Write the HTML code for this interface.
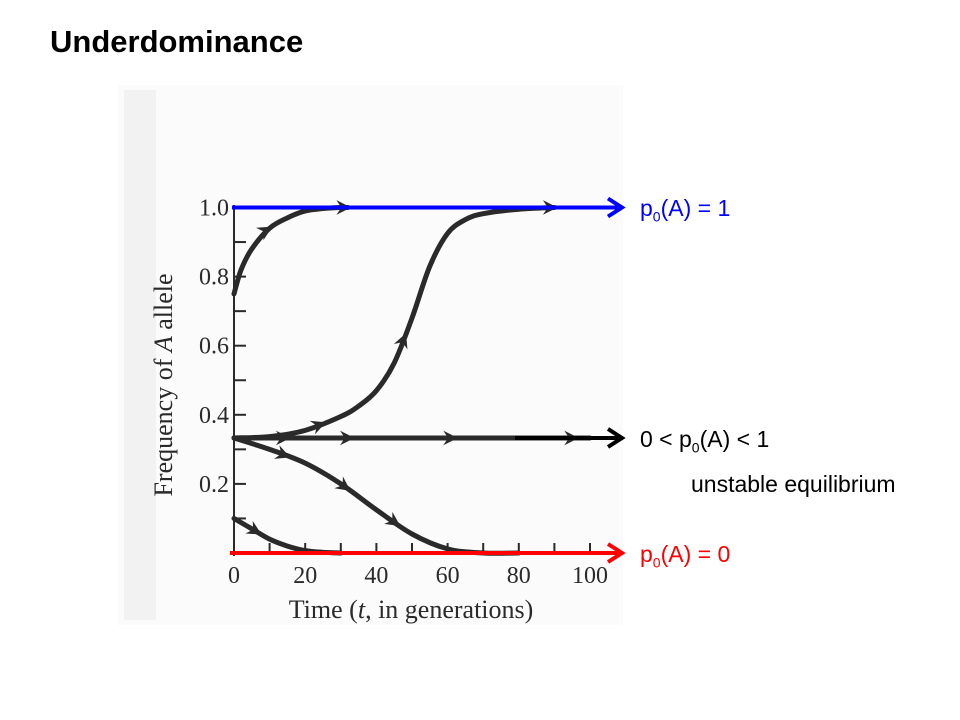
<!DOCTYPE html>
<html><head><meta charset="utf-8"><style>
body{margin:0;background:#fff;width:960px;height:720px;overflow:hidden;position:relative;font-family:"Liberation Sans",Arial,sans-serif}
.t{position:absolute;white-space:nowrap}
</style></head><body>
<div class="t" style="left:50px;top:24px;font-size:31px;font-weight:bold">Underdominance</div>
<svg width="960" height="720" style="position:absolute;left:0;top:0">
<rect x="118" y="85" width="505" height="540" fill="#fbfbfb"/>
<rect x="124" y="90" width="32" height="530" fill="#f2f2f2"/>
<g id="axes"></g>
<g id="curves"></g>
<g id="overlay"></g>
<text x="0" y="0" transform="translate(172,385) rotate(-90)" text-anchor="middle" font-family="Liberation Serif,serif" font-size="26" fill="#2a2a2a">Frequency of <tspan font-style="italic">A</tspan> allele</text>
<text x="411" y="618" text-anchor="middle" font-family="Liberation Serif,serif" font-size="26" fill="#2a2a2a">Time (<tspan font-style="italic">t</tspan>, in generations)</text>
</svg>
<div class="t" style="left:640px;top:195px;font-size:23px;color:#0000ff">p<sub style="font-size:14px">0</sub>(A) = 1</div>
<div class="t" style="left:640px;top:426px;font-size:23px;color:#000">0 &lt; p<sub style="font-size:14px">0</sub>(A) &lt; 1</div>
<div class="t" style="left:691px;top:471px;font-size:23px;color:#000">unstable equilibrium</div>
<div class="t" style="left:640px;top:541px;font-size:23px;color:#ff0000">p<sub style="font-size:14px">0</sub>(A) = 0</div>
<script>
const xTicks=[0,20,40,60,80,100];
const yTicks=[0.2,0.4,0.6,0.8,1.0];
const tA=[0,2,5,10,15,20,25,30,32];
const pA=[0.75,0.82,0.88,0.94,0.97,0.99,0.997,1.0,1.0];
const tB=[0,10,20,30,35,40,45,50,55,60,65,70,80,90];
const pB=[0.333,0.337,0.355,0.395,0.425,0.47,0.55,0.68,0.83,0.925,0.965,0.982,0.995,1.0];
const tC=[0,100];
const pC=[0.333,0.333];
const tD=[0,10,20,30,40,50,60,70,80];
const pD=[0.333,0.30,0.26,0.20,0.125,0.055,0.012,0.0,0.0];
const tE=[0,5,10,15,20,25,30];
const pE=[0.10,0.07,0.04,0.02,0.007,0.002,0.0];
const arrowsA=[10,32], arrowsB=[25,48,90], arrowsC=[15,33,62,96], arrowsD=[15,32,46], arrowsE=[7];
const X=t=>234+t*3.56, Y=p=>553-p*345.5;
const NS='http://www.w3.org/2000/svg';
function mk(tag,at,parent){const e=document.createElementNS(NS,tag);for(const k in at)e.setAttribute(k,at[k]);document.getElementById(parent).appendChild(e);return e;}
let e=mk('line',{x1:234,y1:205,x2:234,y2:556,stroke:'#2a2a2a','stroke-width':2},'axes');


e=mk('line',{x1:232,y1:553,x2:590,y2:553,stroke:'#2a2a2a','stroke-width':2},'axes');


for(let i=1;i<=10;i++){e=mk('line',{x1:234,y1:Y(i/10),x2:246,y2:Y(i/10),stroke:'#2a2a2a','stroke-width':2},'axes');

}
for(let i=1;i<=10;i++){e=mk('line',{x1:X(i*10),y1:553,x2:X(i*10),y2:543,stroke:'#2a2a2a','stroke-width':2},'axes');

}
yTicks.forEach(v=>{e=mk('text',{x:229,y:Y(v)+8,'text-anchor':'end','font-family':'Liberation Serif,serif','font-size':24,fill:'#2a2a2a'},'axes');e.textContent=v.toFixed(1);

});
xTicks.forEach(v=>{e=mk('text',{x:X(v),y:583,'text-anchor':'middle','font-family':'Liberation Serif,serif','font-size':24,fill:'#2a2a2a'},'axes');e.textContent=v;

});
function interp(ts,ps,t){for(let i=0;i<ts.length-1;i++){if(t<=ts[i+1]){const f=(t-ts[i])/(ts[i+1]-ts[i]);return ps[i]+f*(ps[i+1]-ps[i]);}}return ps[ps.length-1];}
function curve(ts,ps,arr,name){
 const pts=ts.map((t,i)=>[X(t),Y(ps[i])]);
 let d='M'+pts[0][0]+','+pts[0][1];
 for(let i=0;i<pts.length-1;i++){const p0=pts[Math.max(0,i-1)],p1=pts[i],p2=pts[i+1],p3=pts[Math.min(pts.length-1,i+2)];
  d+=` C${p1[0]+(p2[0]-p0[0])/6},${p1[1]+(p2[1]-p0[1])/6} ${p2[0]-(p3[0]-p1[0])/6},${p2[1]-(p3[1]-p1[1])/6} ${p2[0]},${p2[1]}`;}
 let c=mk('path',{d:d,fill:'none',stroke:'#2a2a2a','stroke-width':5,'stroke-linecap':'round'},'curves');
 
 
 arr.forEach(t=>{const x=X(t),y=Y(interp(ts,ps,t)),x2=X(t+1),y2=Y(interp(ts,ps,t+1));const a=Math.atan2(y2-y,x2-x)*180/Math.PI;
  let h=mk('path',{d:'M-10,-6 L2,0 L-10,6 L-6,0 Z',fill:'#2a2a2a',stroke:'#2a2a2a','stroke-width':1,transform:`translate(${x},${y}) rotate(${a})`},'curves');
  
  });
}
curve(tA,pA,arrowsA,'curve-p075');
curve(tB,pB,arrowsB,'curve-p033-up');
curve(tC,pC,arrowsC,'curve-equilibrium');
curve(tD,pD,arrowsD,'curve-p033-down');
curve(tE,pE,arrowsE,'curve-p010');
function arrowLine(x1,y,x2,col,name){
 let l=mk('line',{x1:x1,y1:y,x2:x2-4,y2:y,stroke:col,'stroke-width':4},'overlay');
 
 
 let h=mk('path',{d:`M${x2-14},${y-9} L${x2},${y} L${x2-14},${y+9}`,fill:'none',stroke:col,'stroke-width':4},'overlay');
 
 
}
arrowLine(232,Y(1),622,'#0000ff','blue-arrow-p1');
arrowLine(515,Y(0.333),622,'#000','black-arrow-unstable');
arrowLine(230,Y(0),622,'#ff0000','red-arrow-p0');
</script>
</body></html>
